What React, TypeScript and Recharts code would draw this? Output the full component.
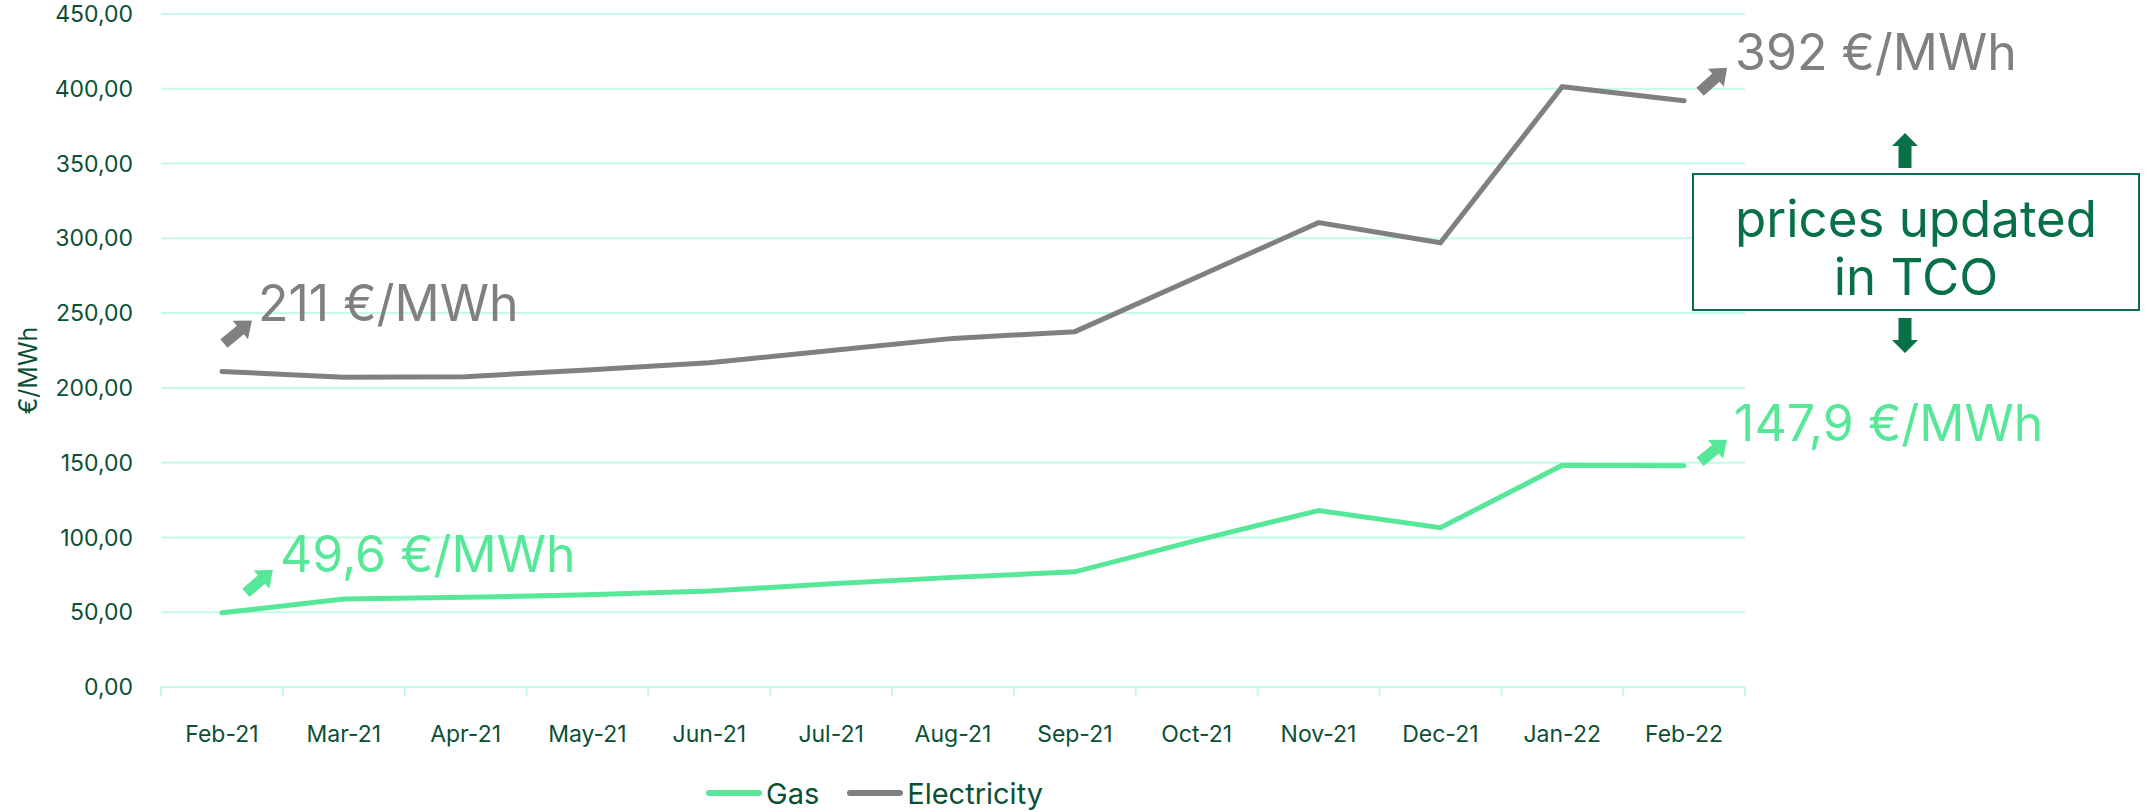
import React from "react";
import {
  LineChart,
  Line,
  XAxis,
  YAxis,
  CartesianGrid,
  Legend,
  ReferenceDot,
  Customized,
} from "recharts";

const months = [
  "Feb-21", "Mar-21", "Apr-21", "May-21", "Jun-21", "Jul-21", "Aug-21",
  "Sep-21", "Oct-21", "Nov-21", "Dec-21", "Jan-22", "Feb-22",
];
const gasPrices = [49.6, 58.9, 60.0, 61.6, 64.2, 69.0, 73.3, 77.0, 98.0, 118.0, 106.5, 148.2, 147.9];
const electricityPrices = [211, 207.1, 207.5, 212.0, 216.8, 225.0, 233.1, 237.6, 274.0, 310.5, 297.0, 401.4, 392];
const yTicks = [0, 50, 100, 150, 200, 250, 300, 350, 400, 450];
const monthTicks = [0, 1, 2, 3, 4, 5, 6, 7, 8, 9, 10, 11, 12];
const boundaryTicks = [-0.5, 0.5, 1.5, 2.5, 3.5, 4.5, 5.5, 6.5, 7.5, 8.5, 9.5, 10.5, 11.5, 12.5];
const legendOrder = ["Gas", "Electricity"];

const data = months.map((month, i) => ({
  idx: i,
  month,
  gas: gasPrices[i],
  electricity: electricityPrices[i],
}));

const FONT = "Inter, 'Noto Sans', sans-serif";
const GAS = "#56E898";
const ELEC = "#808080";
const GRID = "#C4FBE8";
const TEXT = "#0B5034";
const NOTE = "#077046";

// start/end labels with little block arrows, offsets relative to the data point
const notes = [
  { key: "elec-start", idx: 0, value: electricityPrices[0], text: "211 €/MWh", color: ELEC, tail: [2, -28], tip: [30, -51], label: [36, -50] },
  { key: "gas-start", idx: 0, value: gasPrices[0], text: "49,6 €/MWh", color: GAS, tail: [24, -20], tip: [51, -43], label: [58, -41] },
  { key: "elec-end", idx: 12, value: electricityPrices[12], text: "392 €/MWh", color: ELEC, tail: [16, -9], tip: [43, -33], label: [51, -31] },
  { key: "gas-end", idx: 12, value: gasPrices[12], text: "147,9 €/MWh", color: GAS, tail: [16, -4], tip: [43, -26], label: [50, -25] },
];

function arrowPoints(x1: number, y1: number, x2: number, y2: number, shaft: number, head: number, headLen: number) {
  const dx = x2 - x1;
  const dy = y2 - y1;
  const len = Math.hypot(dx, dy);
  const ux = dx / len;
  const uy = dy / len;
  const nx = -uy;
  const ny = ux;
  const bx = x2 - ux * headLen;
  const by = y2 - uy * headLen;
  const pts = [
    [x1 + nx * shaft, y1 + ny * shaft],
    [bx + nx * shaft, by + ny * shaft],
    [bx + nx * head, by + ny * head],
    [x2, y2],
    [bx - nx * head, by - ny * head],
    [bx - nx * shaft, by - ny * shaft],
    [x1 - nx * shaft, y1 - ny * shaft],
  ];
  return pts.map((p) => p.join(",")).join(" ");
}

function NoteLabel({ viewBox, note }: any) {
  const cx = viewBox.x + viewBox.width / 2;
  const cy = viewBox.y + viewBox.height / 2;
  return (
    <g>
      <polygon
        points={arrowPoints(cx + note.tail[0], cy + note.tail[1], cx + note.tip[0], cy + note.tip[1], 5.5, 12, 15)}
        fill={note.color}
      />
      <text x={cx + note.label[0]} y={cy + note.label[1]} fill={note.color} fontSize={50} fontFamily={FONT}>
        {note.text}
      </text>
    </g>
  );
}

function TcoBox() {
  return (
    <g>
      <polygon points={arrowPoints(1905, 168, 1905, 133, 6.5, 13, 13)} fill={NOTE} />
      <rect x={1693} y={174} width={446} height={136} fill="#fff" stroke={NOTE} strokeWidth={2} />
      <text x={1916} y={237} textAnchor="middle" fill={NOTE} fontSize={51} fontFamily={FONT}>
        prices updated
      </text>
      <text x={1916} y={295} textAnchor="middle" fill={NOTE} fontSize={51} fontFamily={FONT}>
        in TCO
      </text>
      <polygon points={arrowPoints(1905, 318, 1905, 353, 6.5, 13, 13)} fill={NOTE} />
    </g>
  );
}

function LegendContent({ payload }: any) {
  const items = [...(payload || [])].sort(
    (a: any, b: any) => legendOrder.indexOf(a.value) - legendOrder.indexOf(b.value)
  );
  return (
    <div style={{ display: "flex", alignItems: "center", height: 36, fontFamily: FONT }}>
      {items.map((entry: any) => (
        <div key={entry.value} style={{ display: "flex", alignItems: "center", marginRight: 28 }}>
          <div style={{ width: 56, height: 6, borderRadius: 3, background: entry.color, marginRight: 4 }} />
          <span style={{ fontSize: 29, color: TEXT }}>{entry.value}</span>
        </div>
      ))}
    </div>
  );
}

export default function App() {
  return (
    <div style={{ position: "absolute", left: 0, top: 0, background: "#fff" }}>
      <LineChart
        width={2149}
        height={812}
        data={data}
        margin={{ top: 14, right: 404, left: 61, bottom: 29 }}
      >
        <CartesianGrid xAxisId="labels" vertical={false} stroke={GRID} strokeWidth={2} />
        <XAxis
          xAxisId="bounds"
          type="number"
          dataKey="idx"
          domain={[-0.5, 12.5]}
          ticks={boundaryTicks}
          tickFormatter={() => ""}
          stroke={GRID}
          strokeWidth={2}
          tickSize={9}
          height={1}
        />
        <XAxis
          xAxisId="labels"
          type="number"
          dataKey="idx"
          domain={[-0.5, 12.5]}
          ticks={monthTicks}
          tickFormatter={(i: number) => months[i]}
          axisLine={false}
          tickLine={false}
          tickSize={0}
          tickMargin={38}
          height={59}
          interval={0}
          tick={{ fill: TEXT, fontSize: 23, fontFamily: FONT }}
        />
        <YAxis
          domain={[0, 450]}
          ticks={yTicks}
          tickFormatter={(v: number) => v.toFixed(2).replace(".", ",")}
          axisLine={false}
          tickLine={false}
          tickSize={0}
          tickMargin={28}
          width={100}
          tick={{ fill: TEXT, fontSize: 23, fontFamily: FONT }}
          label={{
            content: ({ viewBox }: any) => (
              <text
                x={viewBox.x - 24}
                y={viewBox.y + viewBox.height / 2 + 20}
                transform={`rotate(-90, ${viewBox.x - 24}, ${viewBox.y + viewBox.height / 2 + 20})`}
                textAnchor="middle"
                fill={TEXT}
                fontSize={25}
                fontFamily={FONT}
              >
                €/MWh
              </text>
            ),
          }}
        />
        <Line
          xAxisId="labels"
          type="linear"
          dataKey="gas"
          name="Gas"
          stroke={GAS}
          strokeWidth={5}
          strokeLinecap="round"
          dot={false}
          activeDot={false}
          isAnimationActive={false}
        />
        <Line
          xAxisId="labels"
          type="linear"
          dataKey="electricity"
          name="Electricity"
          stroke={ELEC}
          strokeWidth={5}
          strokeLinecap="round"
          dot={false}
          activeDot={false}
          isAnimationActive={false}
        />
        {notes.map((note) => (
          <ReferenceDot
            key={note.key}
            xAxisId="labels"
            x={note.idx}
            y={note.value}
            r={1}
            fill="none"
            stroke="none"
            label={{ content: (props: any) => <NoteLabel {...props} note={note} /> }}
          />
        ))}
        <Customized component={TcoBox} />
        <Legend
          verticalAlign="bottom"
          content={<LegendContent />}
          wrapperStyle={{ left: 706, bottom: 1, width: "auto" }}
        />
      </LineChart>
    </div>
  );
}
